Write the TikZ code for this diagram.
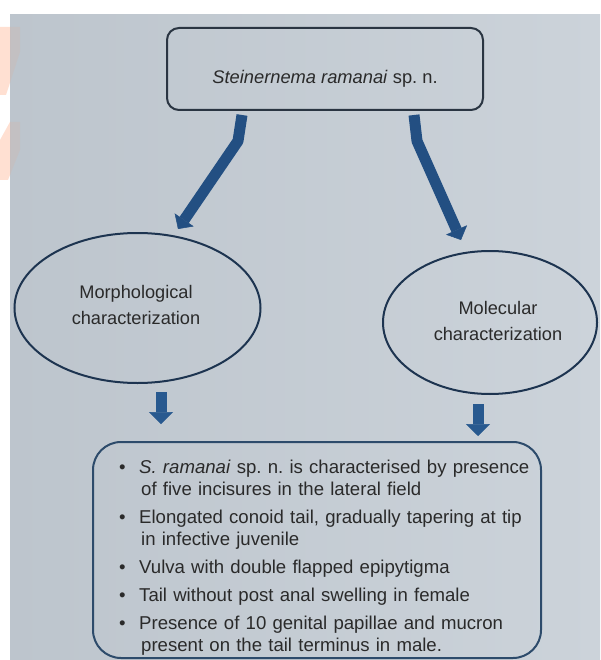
\documentclass[tikz,border=0pt]{standalone}
\usepackage{fontspec}
\setmainfont{Liberation Sans}
\usetikzlibrary{arrows.meta,shapes.geometric,calc}
\definecolor{bgL}{HTML}{BDC5CD}
\definecolor{bgR}{HTML}{CCD3DA}
\definecolor{txt}{HTML}{2A2A2A}
\definecolor{boxc}{HTML}{2A3542}
\definecolor{ellc}{HTML}{1D3450}
\definecolor{fbox}{HTML}{2D4B6B}
\definecolor{arrc}{HTML}{234F82}
\definecolor{arrs}{HTML}{28598F}
\definecolor{wmark}{HTML}{FF9A6A}
\newcommand\bitem[1]{\par\noindent\hangindent=22pt\hangafter=1\makebox[20pt][l]{\textbullet}#1\par}
\frenchspacing
\begin{document}
\begin{tikzpicture}[x=1pt,y=-1pt,
  tbox/.style={draw=boxc, line width=2pt, rounded corners=12pt, minimum width=316pt, minimum height=82pt,
    inner sep=0pt, text height=30pt, text depth=0pt, text=txt, font=\fontsize{18.3}{22}\selectfont},
  ell/.style={draw=ellc, line width=2pt, ellipse, inner sep=0pt},
  etext/.style={align=center, inner sep=0pt, text=txt, font=\fontsize{18.2}{25.5}\selectfont},
  bbox/.style={draw=fbox, line width=2pt, rounded corners=28pt, inner sep=0pt},
  bigarrow/.style={draw=arrc, line width=11pt, line join=round,
    -{Triangle[length=11pt,width=23pt,line width=0.5pt,fill=arrc]}},
  smallarrow/.style={draw=arrs, line width=11pt,
    -{Triangle[length=12pt,width=24pt,line width=0.5pt,fill=arrs]}},
  wm/.style={fill=wmark}
]
\useasboundingbox (0,0) rectangle (600,660);
\fill[white] (0,0) rectangle (600,660);
\shade[left color=bgL, right color=bgR] (10,15) rectangle (600,660);
% watermark fragments
\begin{scope}
\clip (0,0) rectangle (10,660);
\fill[wm, opacity=0.3] (0,27) -- (20,27) -- (20,52) -- (6,95) -- (0,95) -- cycle;
\fill[wm, opacity=0.3] (0,140) -- (10,122) -- (20,122) -- (20,150) -- (8,180) -- (0,180) -- cycle;
\end{scope}
\begin{scope}
\clip (10,15) rectangle (22,660);
\fill[wm, opacity=0.1] (0,27) -- (20,27) -- (20,52) -- (6,95) -- (0,95) -- cycle;
\fill[wm, opacity=0.1] (0,140) -- (10,122) -- (20,122) -- (20,150) -- (8,180) -- (0,180) -- cycle;
\end{scope}

% nodes
\node[tbox] (title) at (325,69) {\textit{Steinernema ramanai} sp. n.};
\node[ell, minimum width=246pt, minimum height=150pt] (morph) at (137.5,308) {};
\node[etext] (morphT) at (136,305) {Morphological\\characterization};
\node[ell, minimum width=214pt, minimum height=143pt] (mol) at (490,322.5) {};
\node[etext] (molT) at (498,321) {Molecular\\characterization};
\node[bbox, minimum width=448pt, minimum height=216pt] (feat) at (317,550) {};
\node[anchor=north west, inner sep=0pt, text width=420pt, text=txt,
  font=\fontsize{18.6}{22}\selectfont] (featT) at (119,451.5) {%
\bitem{\textit{S. ramanai} sp. n. is characterised by presence\newline of five incisures in the lateral field}
\vspace{6pt}
\bitem{Elongated conoid tail, gradually tapering at tip\newline in infective juvenile}
\vspace{6pt}
\bitem{Vulva with double flapped epipytigma}
\vspace{6pt}
\bitem{Tail without post anal swelling in female}
\vspace{6pt}
\bitem{Presence of 10 genital papillae and mucron\newline present on the tail terminus in male.}
};

% connectors
\coordinate (L0) at ($(title.south)+(-83,4)$);
\coordinate (L1) at ($(title.south)+(-87,30)$);
\coordinate (L2) at (178,229);
\coordinate (R0) at ($(title.south)+(89,4)$);
\coordinate (R1) at ($(title.south)+(92,30)$);
\coordinate (R2) at (461,240);
\draw[bigarrow] (L0) -- (L1) -- (L2);
\draw[bigarrow] (R0) -- (R1) -- (R2);

\coordinate (S0) at ($(morph.south)+(23.5,8)$);
\coordinate (S1) at ($(feat.north)+(-156,-17)$);
\draw[smallarrow] (S0) -- (S0 |- S1);
\coordinate (T0) at ($(mol.south)+(-12,9)$);
\coordinate (T1) at ($(feat.north)+(0,-5)$);
\draw[smallarrow] (T0) -- (T0 |- T1);
\end{tikzpicture}
\end{document}
